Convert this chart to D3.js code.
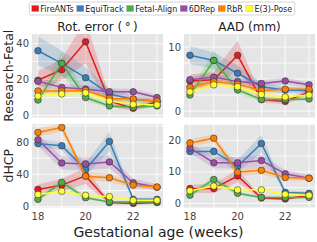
<!DOCTYPE html>
<html>
<head>
<meta charset="utf-8">
<script src="https://cdn.jsdelivr.net/npm/d3@7"></script>
<style>
  html, body { margin: 0; padding: 0; background: #fff; }
  svg { display: block; font-family: "DejaVu Sans", sans-serif; }
</style>
</head>
<body>
<svg id="chart" width="317" height="242"></svg>
<script>
const weeks = [18, 19, 20, 21, 22, 23];
const methods = ["FireANTs", "EquiTrack", "Fetal-Align", "6DRep", "RbR", "E(3)-Pose"];
const colours = ["#e41a1c", "#377eb8", "#4daf4a", "#984ea3", "#ff7f00", "#ffff33"];

// Research-Fetal, rotation error (deg): one row per method
const rotFetalMean = [
    [19.6, 25.5, 41.0, 8.0, 4.0, 7.5],
    [36.0, 29.0, 21.0, 12.0, 9.0, 8.0],
    [8.6, 29.0, 10.0, 5.3, 4.6, 5.3],
    [19.0, 15.6, 14.7, 13.2, 13.2, 10.0],
    [13.6, 13.6, 14.0, 9.5, 9.2, 8.0],
    [10.8, 12.0, 12.6, 8.0, 6.2, 5.9]
];
const rotFetalErr = [
    [5, 6, 12, 3, 1.5, 2],
    [8, 7, 6, 3, 2, 1.5],
    [1.5, 7, 2, 1, 1, 1],
    [2, 2, 2, 2, 1.5, 1.5],
    [1.5, 1.5, 1.5, 1.5, 1.5, 1.5],
    [1.5, 1.5, 1.5, 1.5, 1.2, 1.2]
];
// Research-Fetal, AAD (mm)
const aadFetalMean = [
    [4.7, 4.9, 8.7, 1.8, 1.5, 3.0],
    [8.7, 7.9, 5.9, 3.8, 3.3, 3.2],
    [2.5, 7.9, 3.3, 1.8, 1.8, 1.9],
    [4.9, 5.3, 4.6, 4.3, 4.7, 4.1],
    [3.7, 4.6, 4.2, 3.2, 3.4, 3.4],
    [3.0, 4.1, 3.8, 2.6, 2.2, 2.5]
];
const aadFetalErr = [
    [1.0, 1.2, 2.3, 0.5, 0.4, 0.5],
    [1.4, 1.3, 1.2, 0.7, 0.5, 0.4],
    [0.4, 1.6, 0.6, 0.3, 0.3, 0.3],
    [0.5, 0.5, 0.5, 0.5, 0.5, 0.4],
    [0.4, 0.4, 0.4, 0.4, 0.4, 0.4],
    [0.4, 0.4, 0.4, 0.3, 0.3, 0.3]
];
// dHCP, rotation error (deg)
const rotDhcpMean = [
    [21.3, 26.6, 38.0, 5.0, 4.0, 5.0],
    [78.0, 75.4, 45.9, 80.7, 9.0, 9.0],
    [9.0, 30.0, 11.0, 5.7, 5.7, 5.7],
    [82.8, 54.0, 52.9, 55.3, 29.5, 24.0],
    [91.8, 98.0, 37.7, 35.7, 26.6, 24.2],
    [15.0, 19.0, 14.0, 12.3, 7.8, 7.8]
];
const rotDhcpErr = [
    [6, 8, 10, 2, 1.5, 1.5],
    [5, 5, 8, 12, 2, 2],
    [2, 5, 2, 1.5, 1.5, 1.5],
    [7, 8, 8, 8, 5, 4],
    [5, 5, 5, 5, 4, 3],
    [2, 2, 2, 2, 1.5, 1.5]
];
// dHCP, AAD (mm)
const aadDhcpMean = [
    [4.7, 4.7, 8.7, 1.7, 1.4, 2.6],
    [16.5, 16.5, 11.8, 19.0, 3.5, 3.2],
    [2.6, 7.6, 3.2, 1.9, 1.9, 1.9],
    [17.6, 12.9, 12.9, 13.6, 9.4, 8.0],
    [19.2, 20.7, 9.9, 10.5, 8.2, 8.0],
    [4.0, 5.5, 4.3, 4.3, 2.9, 2.6]
];
const aadDhcpErr = [
    [1.2, 1.5, 2.0, 0.5, 0.4, 0.5],
    [1.5, 1.5, 2.0, 2.8, 0.6, 0.5],
    [0.5, 1.2, 0.5, 0.4, 0.4, 0.4],
    [1.5, 1.8, 1.8, 1.8, 1.2, 1.0],
    [1.2, 1.2, 1.2, 1.2, 1.0, 0.8],
    [0.5, 0.5, 0.5, 0.5, 0.4, 0.4]
];

const colTitles = ["Rot. error (\u2009\u00b0\u2009)", "AAD (mm)"];
const rowTitles = ["Research-Fetal", "dHCP"];
const xTicks = [18, 20, 22];

const svg = d3.select("#chart");

const cols = [[32, 315 - 152], [184, 315]];
const rows = [[34, 117.5], [124, 207.5]];

const panels = [
    { row: 0, col: 0, mean: rotFetalMean, err: rotFetalErr, domain: [-1.1, 45.3], grid: 10, label: 20 },
    { row: 0, col: 1, mean: aadFetalMean, err: aadFetalErr, domain: [-1.0, 12.03], grid: 2.5, label: 10 },
    { row: 1, col: 0, mean: rotDhcpMean, err: rotDhcpErr, domain: [-1.1, 102.3], grid: 20, label: 40 },
    { row: 1, col: 1, mean: aadDhcpMean, err: aadDhcpErr, domain: [-1.3, 25.2], grid: 5, label: 10 }
];

panels.forEach((p, pi) => {
    const [x0, x1] = cols[p.col];
    const [y0, y1] = rows[p.row];
    const x = d3.scaleLinear().domain([17.75, 23.25]).range([x0, x1]);
    const y = d3.scaleLinear().domain(p.domain).range([y1, y0]);

    const g = svg.append("g");
    g.append("rect")
        .attr("x", x0).attr("y", y0)
        .attr("width", x1 - x0).attr("height", y1 - y0)
        .attr("fill", "#e5e5e5");

    const clipId = "clip" + pi;
    svg.append("clipPath").attr("id", clipId)
        .append("rect")
        .attr("x", x0).attr("y", y0)
        .attr("width", x1 - x0).attr("height", y1 - y0);

    // grid
    const yGrid = d3.range(0, p.domain[1], p.grid);
    g.selectAll(".hgrid")
        .data(yGrid)
        .join("line")
        .attr("x1", x0).attr("x2", x1)
        .attr("y1", d => y(d)).attr("y2", d => y(d))
        .attr("stroke", "#fff").attr("stroke-width", 0.8);
    g.selectAll(".vgrid")
        .data(weeks)
        .join("line")
        .attr("x1", d => x(d)).attr("x2", d => x(d))
        .attr("y1", y0).attr("y2", y1)
        .attr("stroke", "#fff").attr("stroke-width", 0.8);

    // y tick labels
    g.selectAll(".ylab")
        .data(d3.range(0, p.domain[1], p.label))
        .join("text")
        .attr("x", x0 - 3)
        .attr("y", d => y(d))
        .attr("dy", "0.35em")
        .attr("text-anchor", "end")
        .attr("font-size", 10)
        .attr("fill", "#444")
        .text(d => d);

    // x tick labels on bottom row only
    if (p.row === 1) {
        g.selectAll(".xlab")
            .data(xTicks)
            .join("text")
            .attr("x", d => x(d))
            .attr("y", 220)
            .attr("text-anchor", "middle")
            .attr("font-size", 10)
            .attr("fill", "#444")
            .text(d => d);
    }

    const plot = g.append("g").attr("clip-path", `url(#${clipId})`);

    const area = d3.area()
        .x((d, i) => x(weeks[i]))
        .y0(d => y(d[0] - d[1]))
        .y1(d => y(d[0] + d[1]));
    const line = d3.line()
        .x((d, i) => x(weeks[i]))
        .y(d => y(d));

    p.mean.forEach((m, k) => {
        plot.append("path")
            .attr("d", area(m.map((v, i) => [v, p.err[k][i]])))
            .attr("fill", colours[k])
            .attr("fill-opacity", 0.2);
    });
    p.mean.forEach((m, k) => {
        plot.append("path")
            .attr("d", line(m))
            .attr("fill", "none")
            .attr("stroke", colours[k])
            .attr("stroke-width", 1.5);
        plot.selectAll(".dot" + k)
            .data(m)
            .join("circle")
            .attr("cx", (d, i) => x(weeks[i]))
            .attr("cy", d => y(d))
            .attr("r", 3.3)
            .attr("fill", colours[k])
            .attr("stroke", "#333")
            .attr("stroke-width", 0.6);
    });

    if (p.row === 0) {
        svg.append("text")
            .attr("x", (x0 + x1) / 2)
            .attr("y", 31)
            .attr("text-anchor", "middle")
            .attr("font-size", 12)
            .attr("fill", "#222")
            .text(colTitles[p.col]);
    }
    if (p.col === 0) {
        svg.append("text")
            .attr("transform", `translate(13,${(y0 + y1) / 2})rotate(-90)`)
            .attr("text-anchor", "middle")
            .attr("font-size", 12.5)
            .attr("fill", "#222")
            .text(rowTitles[p.row]);
    }
});

svg.append("text")
    .attr("x", 158.5)
    .attr("y", 237)
    .attr("text-anchor", "middle")
    .attr("font-size", 14)
    .attr("fill", "#222")
    .text("Gestational age (weeks)");

// legend
const legend = svg.append("g");
const legendBox = legend.append("rect")
    .attr("y", 2).attr("height", 13)
    .attr("fill", "#fff")
    .attr("stroke", "#ccc")
    .attr("stroke-width", 0.8)
    .attr("rx", 1.5);
let lx = 0;
const items = legend.append("g");
methods.forEach((m, k) => {
    items.append("rect")
        .attr("x", lx).attr("y", 5.5)
        .attr("width", 7).attr("height", 6)
        .attr("fill", colours[k])
        .attr("stroke", "#888").attr("stroke-width", 0.3);
    const t = items.append("text")
        .attr("x", lx + 8.5)
        .attr("y", 11.5)
        .attr("font-size", 8)
        .attr("fill", "#222")
        .text(m);
    lx += 8.5 + t.node().getComputedTextLength() + 3;
});
const totalW = lx - 3;
const startX = 162 - totalW / 2;
items.attr("transform", `translate(${startX},0)`);
legendBox.attr("x", startX - 2.5).attr("width", totalW + 5);
</script>
</body>
</html>
